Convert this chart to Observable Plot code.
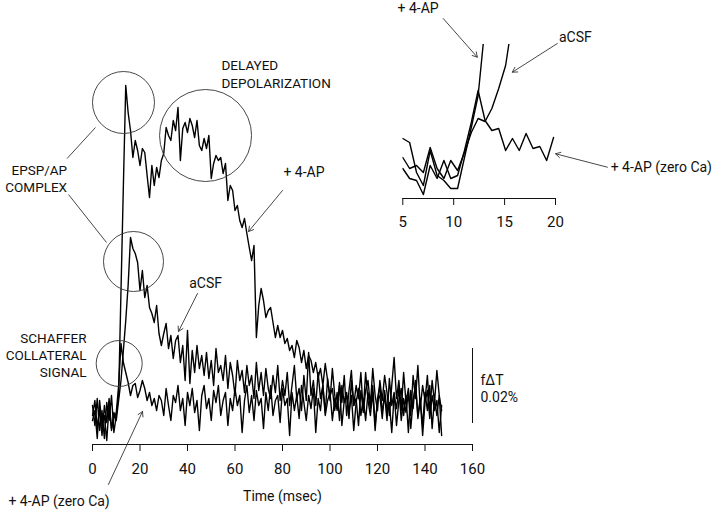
<!DOCTYPE html>
<html><head><meta charset="utf-8">
<script src="https://cdn.jsdelivr.net/npm/d3@7"></script>
<script src="https://cdn.jsdelivr.net/npm/@observablehq/plot@0.6"></script>
<style>
body{margin:0;background:#fff;}
#wrap{position:relative;width:720px;height:511px;}
#wrap svg{position:absolute;left:0;top:0;}
</style></head><body><div id="wrap"></div>
<script>
// ---- Main traces: fΔT (arbitrary units, 75 units = 0.02 %), sampled every 1 ms from 0 ms ----
const dt = 1;
const ap4 = [5,-15,12,-20,0,-28,8,-10,15,-22,-5,
15,120,225,325,
298,280,253,270,260,245,262,258,235,213,245,225,243,233,250,257,
283,275,270,290,280,303,250,282,288,278,292,285,273,290,265,260,272,262,275,232,
247,255,250,253,237,247,210,225,220,200,
205,190,183,192,177,163,150,165,73,105,
122,110,93,100,103,88,73,85,73,80,
67,72,60,65,53,70,63,48,60,42,
55,50,38,48,33,42,25,47,30,15,
22,0,18,-10,25,8,15,-8,30,5,
12,-15,20,0,38,10,-5,18,-20,12,
25,-2,15,-10,32,5,18,-15,10,22,
-5,15,-22,20,2,30,-8,10,-15,18,
0,25,-18,12,-5,15,-25];
const acsf = [-5,10,-18,2,-25,5,-12,12,-20,-2,-10,
10,30,60,90,
125,173,162,157,148,120,140,113,125,103,97,88,105,77,65,77,
87,62,75,52,70,75,48,65,30,80,27,60,38,65,42,55,35,58,32,50,
25,62,38,45,30,55,22,48,35,15,
50,30,40,18,45,25,35,12,48,20,
38,15,42,22,12,35,18,45,10,30,
15,38,5,25,45,12,22,0,35,10,
58,15,30,5,38,12,25,-2,32,10,
42,15,0,28,8,35,-5,20,40,5,
25,12,38,-2,20,30,5,42,15,0,
30,10,35,18,-5,25,53,12,30,0,
38,8,22,-5,35,12,45,2,25,10,
35,-2,30,8,40,15,0];
const zeroCa = [-10,0,-28,10,-15,-5,-30,5,-18,-8,-2,
25,67,48,38,
28,15,25,27,13,20,30,22,10,18,5,12,0,15,10,-5,
22,5,-10,15,8,25,0,12,-15,18,5,22,-2,10,-20,15,25,2,12,-10,
20,8,25,-5,10,18,-15,12,0,22,
5,15,-22,10,25,-2,15,-10,20,5,
12,-18,18,0,25,-5,10,15,-12,22,
5,12,-25,18,0,15,-8,25,8,-10,
15,2,22,-22,12,0,25,-5,10,18,
-10,12,2,25,-15,10,18,-2,15,-20,
8,22,-5,12,-10,18,2,25,-15,10,
15,-8,20,0,8,-22,15,2,22,-10,
12,-2,18,-18,10,25,-5,12,-25,8,
20,-8,15,0,10,-22,5];

// ---- Inset traces (5–20 ms) ----
const insetT = [5,5.67,6.35,7.02,7.69,8.37,9.04,9.71,10.38,11.06,11.73,12.4,13.08,13.75,14.42,15.1,15.77,16.44,17.11,17.79,18.46,19.13,19.81];
const inset4AP = [34,30,0,-13,22,-3,-8,-16,-16,15,45,77,147];
const insetACSF = [15,4,7,0,25,4,-6,12,2,20,40,54,51,64,84,107,152];
const insetZero = [4,-6,-8,-22,7,-6,12,-6,-3,22,50,82,52,42,44,22,34,22,39,24,26,12,35];

// ---- Axes ----
const xTicks = [0,20,40,60,80,100,120,140,160];
const insetTicks = [5,10,15,20];
const xLabel = "Time (msec)";
const scaleBar = {t: 160, from: -13, to: 62, labels: ["fΔT", "0.02%"]};

// ---- Annotations (data coordinates) ----
const capsLabels = [
  {t: 54.3, v: 337, text: "DELAYED\nDEPOLARIZATION", anchor: "start"},
  {t: -10.7, v: 232.5, text: "EPSP/AP\nCOMPLEX", anchor: "end"},
  {t: -2.5, v: 55.8, text: "SCHAFFER\nCOLLATERAL\nSIGNAL", anchor: "end"}
];
const mainLabels = [
  {t: 47.6, v: 126.7, text: "aCSF", anchor: "middle"},
  {t: 80.4, v: 238, text: "+ 4-AP", anchor: "start"},
  {t: -35.4, v: -91, text: "+ 4-AP (zero Ca)", anchor: "start"}
];
const circles = [
  {t: 13.05, v: 308, r: 31},
  {t: 47.6, v: 275, r: 46},
  {t: 17.26, v: 149, r: 30},
  {t: 11.24, v: 47, r: 23}
];
const plainLinks = [
  {t1: -10.7, v1: 252, t2: 1.26, v2: 283},
  {t1: -10.1, v1: 216, t2: 5.9, v2: 168}
];
const mainArrows = [
  {t1: 6.7, v1: -74, t2: 21.05, v2: -1},
  {t1: 44.2, v1: 117, t2: 36.2, v2: 79},
  {t1: 80, v1: 220, t2: 65.7, v2: 179}
];
const insetLabels = [
  {t: 4.48, v: 164, text: "+ 4-AP"},
  {t: 20.34, v: 134.5, text: "aCSF"},
  {t: 25.42, v: 4.5, text: "+ 4-AP (zero Ca)"}
];
const insetArrows = [
  {t1: 8.97, v1: 154, t2: 12.32, v2: 115.3},
  {t1: 20.18, v1: 129, t2: 15.76, v2: 100.3},
  {t1: 25.1, v1: 5.3, t2: 20.01, v2: 18.7}
];

const toRows = (vals) => vals.map((v, i) => ({t: i * dt, v}));
const toInsetRows = (vals) => vals.map((v, i) => ({t: insetT[i], v}));

const yDomain = [-34, 410];
const font = "Roboto, 'Liberation Sans', sans-serif";
const ink = "#111";
const traceW = 1.4;

function labelMarks(data, opts) {
  return ["start", "middle", "end"].map(a =>
    Plot.text(data, {x: "t", y: "v", text: "text", filter: d => d.anchor === a, textAnchor: a,
      lineAnchor: "middle", fill: ink, ...opts}));
}

const main = Plot.plot({
  width: 720, height: 511,
  marginLeft: 92, marginRight: 248, marginTop: 0, marginBottom: 67,
  style: {fontFamily: font, fontSize: "15px", color: ink, background: "transparent", overflow: "visible"},
  x: {domain: [0, 160], ticks: xTicks, tickSize: 7, tickPadding: 12, label: null},
  y: {domain: yDomain, axis: null},
  r: {type: "identity"},
  marks: [
    Plot.ruleY([yDomain[0]], {stroke: ink, strokeWidth: 1}),
    Plot.line(toRows(zeroCa), {x: "t", y: "v", stroke: "#000", strokeWidth: traceW}),
    Plot.line(toRows(acsf), {x: "t", y: "v", stroke: "#000", strokeWidth: traceW}),
    Plot.line(toRows(ap4), {x: "t", y: "v", stroke: "#000", strokeWidth: traceW}),
    Plot.dot(circles, {x: "t", y: "v", r: "r", stroke: "#333", strokeWidth: 0.9, fill: "none"}),
    Plot.link(plainLinks, {x1: "t1", y1: "v1", x2: "t2", y2: "v2", stroke: "#333", strokeWidth: 0.9}),
    Plot.arrow(mainArrows, {x1: "t1", y1: "v1", x2: "t2", y2: "v2", stroke: "#333", strokeWidth: 0.9, headLength: 9}),
    ...labelMarks(capsLabels, {lineHeight: 1.27, fontSize: 13.5}),
    ...labelMarks(mainLabels, {fontSize: 14}),
    Plot.ruleX([scaleBar.t], {y1: scaleBar.from, y2: scaleBar.to, stroke: ink, strokeWidth: 1}),
    Plot.text([scaleBar.labels[0]], {x: scaleBar.t, y: 30, text: d => d, dx: 8, textAnchor: "start", fontSize: 14, fill: ink}),
    Plot.text([scaleBar.labels[1]], {x: scaleBar.t, y: 13, text: d => d, dx: 8, textAnchor: "start", fontSize: 14, fill: ink}),
    Plot.text([xLabel], {frameAnchor: "bottom", text: d => d, dy: 52, lineAnchor: "middle", fontSize: 14, fill: ink})
  ]
});

const inset = Plot.plot({
  width: 720, height: 511,
  marginLeft: 402.3, marginRight: 165, marginTop: 44, marginBottom: 313,
  style: {fontFamily: font, fontSize: "15px", color: ink, background: "transparent", overflow: "visible"},
  x: {domain: [5, 20], ticks: insetTicks, tickSize: 7, tickPadding: 11, label: null},
  y: {domain: [-26, 128], axis: null},
  marks: [
    Plot.ruleY([-26], {stroke: ink, strokeWidth: 1}),
    Plot.line(toInsetRows(insetZero), {x: "t", y: "v", stroke: "#000", strokeWidth: traceW, clip: true}),
    Plot.line(toInsetRows(insetACSF), {x: "t", y: "v", stroke: "#000", strokeWidth: traceW, clip: true}),
    Plot.line(toInsetRows(inset4AP), {x: "t", y: "v", stroke: "#000", strokeWidth: traceW, clip: true}),
    Plot.arrow(insetArrows, {x1: "t1", y1: "v1", x2: "t2", y2: "v2", stroke: "#333", strokeWidth: 0.9, headLength: 9}),
    Plot.text(insetLabels, {x: "t", y: "v", text: "text", textAnchor: "start", lineAnchor: "middle", fontSize: 14, fill: ink})
  ]
});

const wrap = document.getElementById("wrap");
wrap.appendChild(main);
wrap.appendChild(inset);
</script>
</body></html>
